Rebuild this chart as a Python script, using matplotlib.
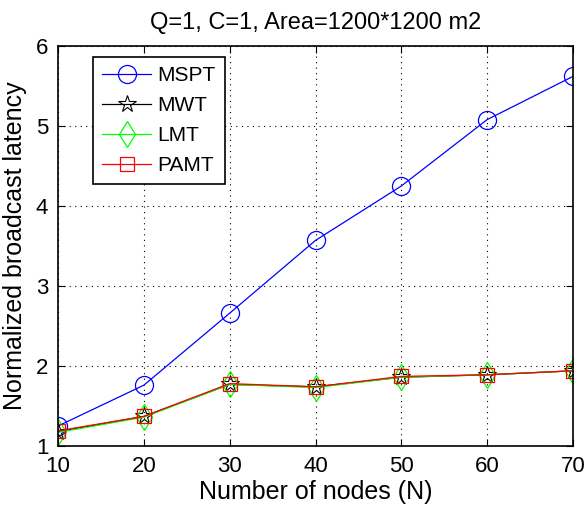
import matplotlib
matplotlib.use("Agg")
import matplotlib.pyplot as plt

plt.rcParams["font.family"] = ["Liberation Sans", "DejaVu Sans"]

nodes = [10, 20, 30, 40, 50, 60, 70]
mspt = [1.25, 1.76, 2.66, 3.57, 4.25, 5.08, 5.62]
mwt = [1.18, 1.37, 1.77, 1.74, 1.86, 1.89, 1.94]
lmt = [1.17, 1.36, 1.77, 1.73, 1.86, 1.89, 1.94]
pamt = [1.19, 1.37, 1.78, 1.74, 1.87, 1.89, 1.94]

fig = plt.figure(figsize=(5.88, 5.08), dpi=100)
ax = fig.add_axes([58 / 588, 62 / 508, 515 / 588, 400 / 508])

ax.plot(nodes, mspt, "-o", color="blue", lw=0.9, ms=13, mfc="none", mew=0.9, label="MSPT")
ax.plot(nodes, mwt, "-*", color="black", lw=0.9, ms=13, mfc="none", mew=0.8, label="MWT")
ax.plot(nodes, lmt, "-d", color="#00ff00", lw=0.9, ms=13, mfc="none", mew=0.9, label="LMT")
ax.plot(nodes, pamt, "-s", color="red", lw=0.9, ms=10, mfc="none", mew=0.9, label="PAMT")

ax.set_xlim(10, 70)
ax.set_ylim(1, 6)
ax.set_xticks(nodes)
ax.set_yticks([1, 2, 3, 4, 5, 6])
ax.tick_params(direction="in", top=True, right=True, labelsize=16, length=5, pad=7)
ax.grid(True, color="black", ls=(0, (1, 4)), lw=0.8)
for s in ax.spines.values():
    s.set_linewidth(1.2)

ax.set_xlabel("Number of nodes (N)", fontsize=18, labelpad=2)
ax.set_ylabel("Normalized broadcast latency", fontsize=18, labelpad=6)
ax.set_title("Q=1, C=1, Area=1200*1200 m2", fontsize=17, pad=12)

leg = ax.legend(loc="upper left", bbox_to_anchor=(0.068, 0.9725), borderaxespad=0,
                fontsize=15, fancybox=False, framealpha=1, edgecolor="black",
                handlelength=2.35, handletextpad=0.3, borderpad=0.45, labelspacing=0.52)
leg.get_frame().set_linewidth(1.2)

fig.savefig("out.png", dpi=100)
